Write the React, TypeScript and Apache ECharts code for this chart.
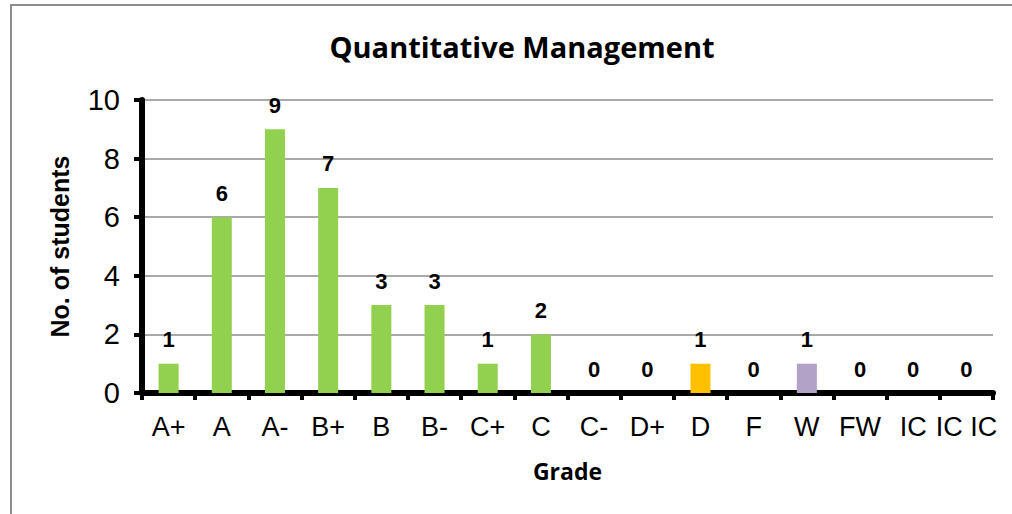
import React, { useEffect, useRef } from "react";
import * as echarts from "echarts";

const titleText = "Quantitative Management";
const categories = ["A+", "A", "A-", "B+", "B", "B-", "C+", "C", "C-", "D+", "D", "F", "W", "FW", "IC", "IC IC"];
const counts = [1, 6, 9, 7, 3, 3, 1, 2, 0, 0, 1, 0, 1, 0, 0, 0];
const barColors = [
  "#92D050", "#92D050", "#92D050", "#92D050", "#92D050", "#92D050", "#92D050", "#92D050",
  "#92D050", "#92D050", "#FFC000", "#92D050", "#B3A2C7", "#92D050", "#92D050", "#92D050",
];
const yTicks = { min: 0, max: 10, interval: 2 };

export default function App() {
  const ref = useRef<HTMLDivElement>(null);
  useEffect(() => {
    if (!ref.current) return;
    const chart = echarts.init(ref.current, undefined, { renderer: "svg" });
    chart.setOption({
      animation: false,
      backgroundColor: "#ffffff",
      title: {
        text: titleText,
        left: 517,
        top: 27,
        textAlign: "center",
        textStyle: { fontFamily: "Open Sans", fontWeight: "bold", fontSize: 29, color: "#000" },
      },
      graphic: [
        {
          type: "rect",
          shape: { x: 11, y: 5, width: 1200, height: 700 },
          style: { fill: "none", stroke: "#8c8c8c", lineWidth: 2 },
          silent: true,
        },
      ],
      grid: { left: 142, right: 19, top: 100, bottom: 121 },
      xAxis: {
        type: "category",
        data: categories,
        name: "Grade",
        nameLocation: "middle",
        nameGap: 66,
        nameTextStyle: { fontFamily: "Open Sans", fontWeight: "bold", fontSize: 23, color: "#000" },
        axisLine: { lineStyle: { color: "#000", width: 6 } },
        axisTick: { show: true, length: 7, lineStyle: { color: "#000", width: 4 }, alignWithLabel: false },
        axisLabel: {
          interval: 0,
          margin: 20,
          fontFamily: "Liberation Sans, Arial",
          fontSize: 27,
          color: "#000",
        },
      },
      yAxis: {
        type: "value",
        min: yTicks.min,
        max: yTicks.max,
        interval: yTicks.interval,
        name: "No. of students",
        nameLocation: "middle",
        nameGap: 70,
        nameRotate: 90,
        nameTextStyle: { fontFamily: "Liberation Sans, Arial", fontWeight: "bold", fontSize: 25, color: "#000" },
        axisLine: { show: true, lineStyle: { color: "#000", width: 6 } },
        axisTick: { show: true, length: 8, lineStyle: { color: "#000", width: 4 } },
        axisLabel: { margin: 22, fontFamily: "Liberation Sans, Arial", fontSize: 29, color: "#000" },
        splitLine: { show: true, lineStyle: { color: "#8c8c8c", width: 1.5 } },
      },
      series: [
        {
          type: "bar",
          barWidth: 20,
          data: counts.map((v, i) => ({ value: v, itemStyle: { color: barColors[i] } })),
          label: {
            show: true,
            position: "top",
            distance: 13,
            fontFamily: "Liberation Sans, Arial",
            fontWeight: "bold",
            fontSize: 22,
            color: "#000",
          },
        },
      ],
    });
    return () => chart.dispose();
  }, []);
  return <div ref={ref} style={{ width: 1012, height: 514, position: "absolute", left: 0, top: 0 }} />;
}
